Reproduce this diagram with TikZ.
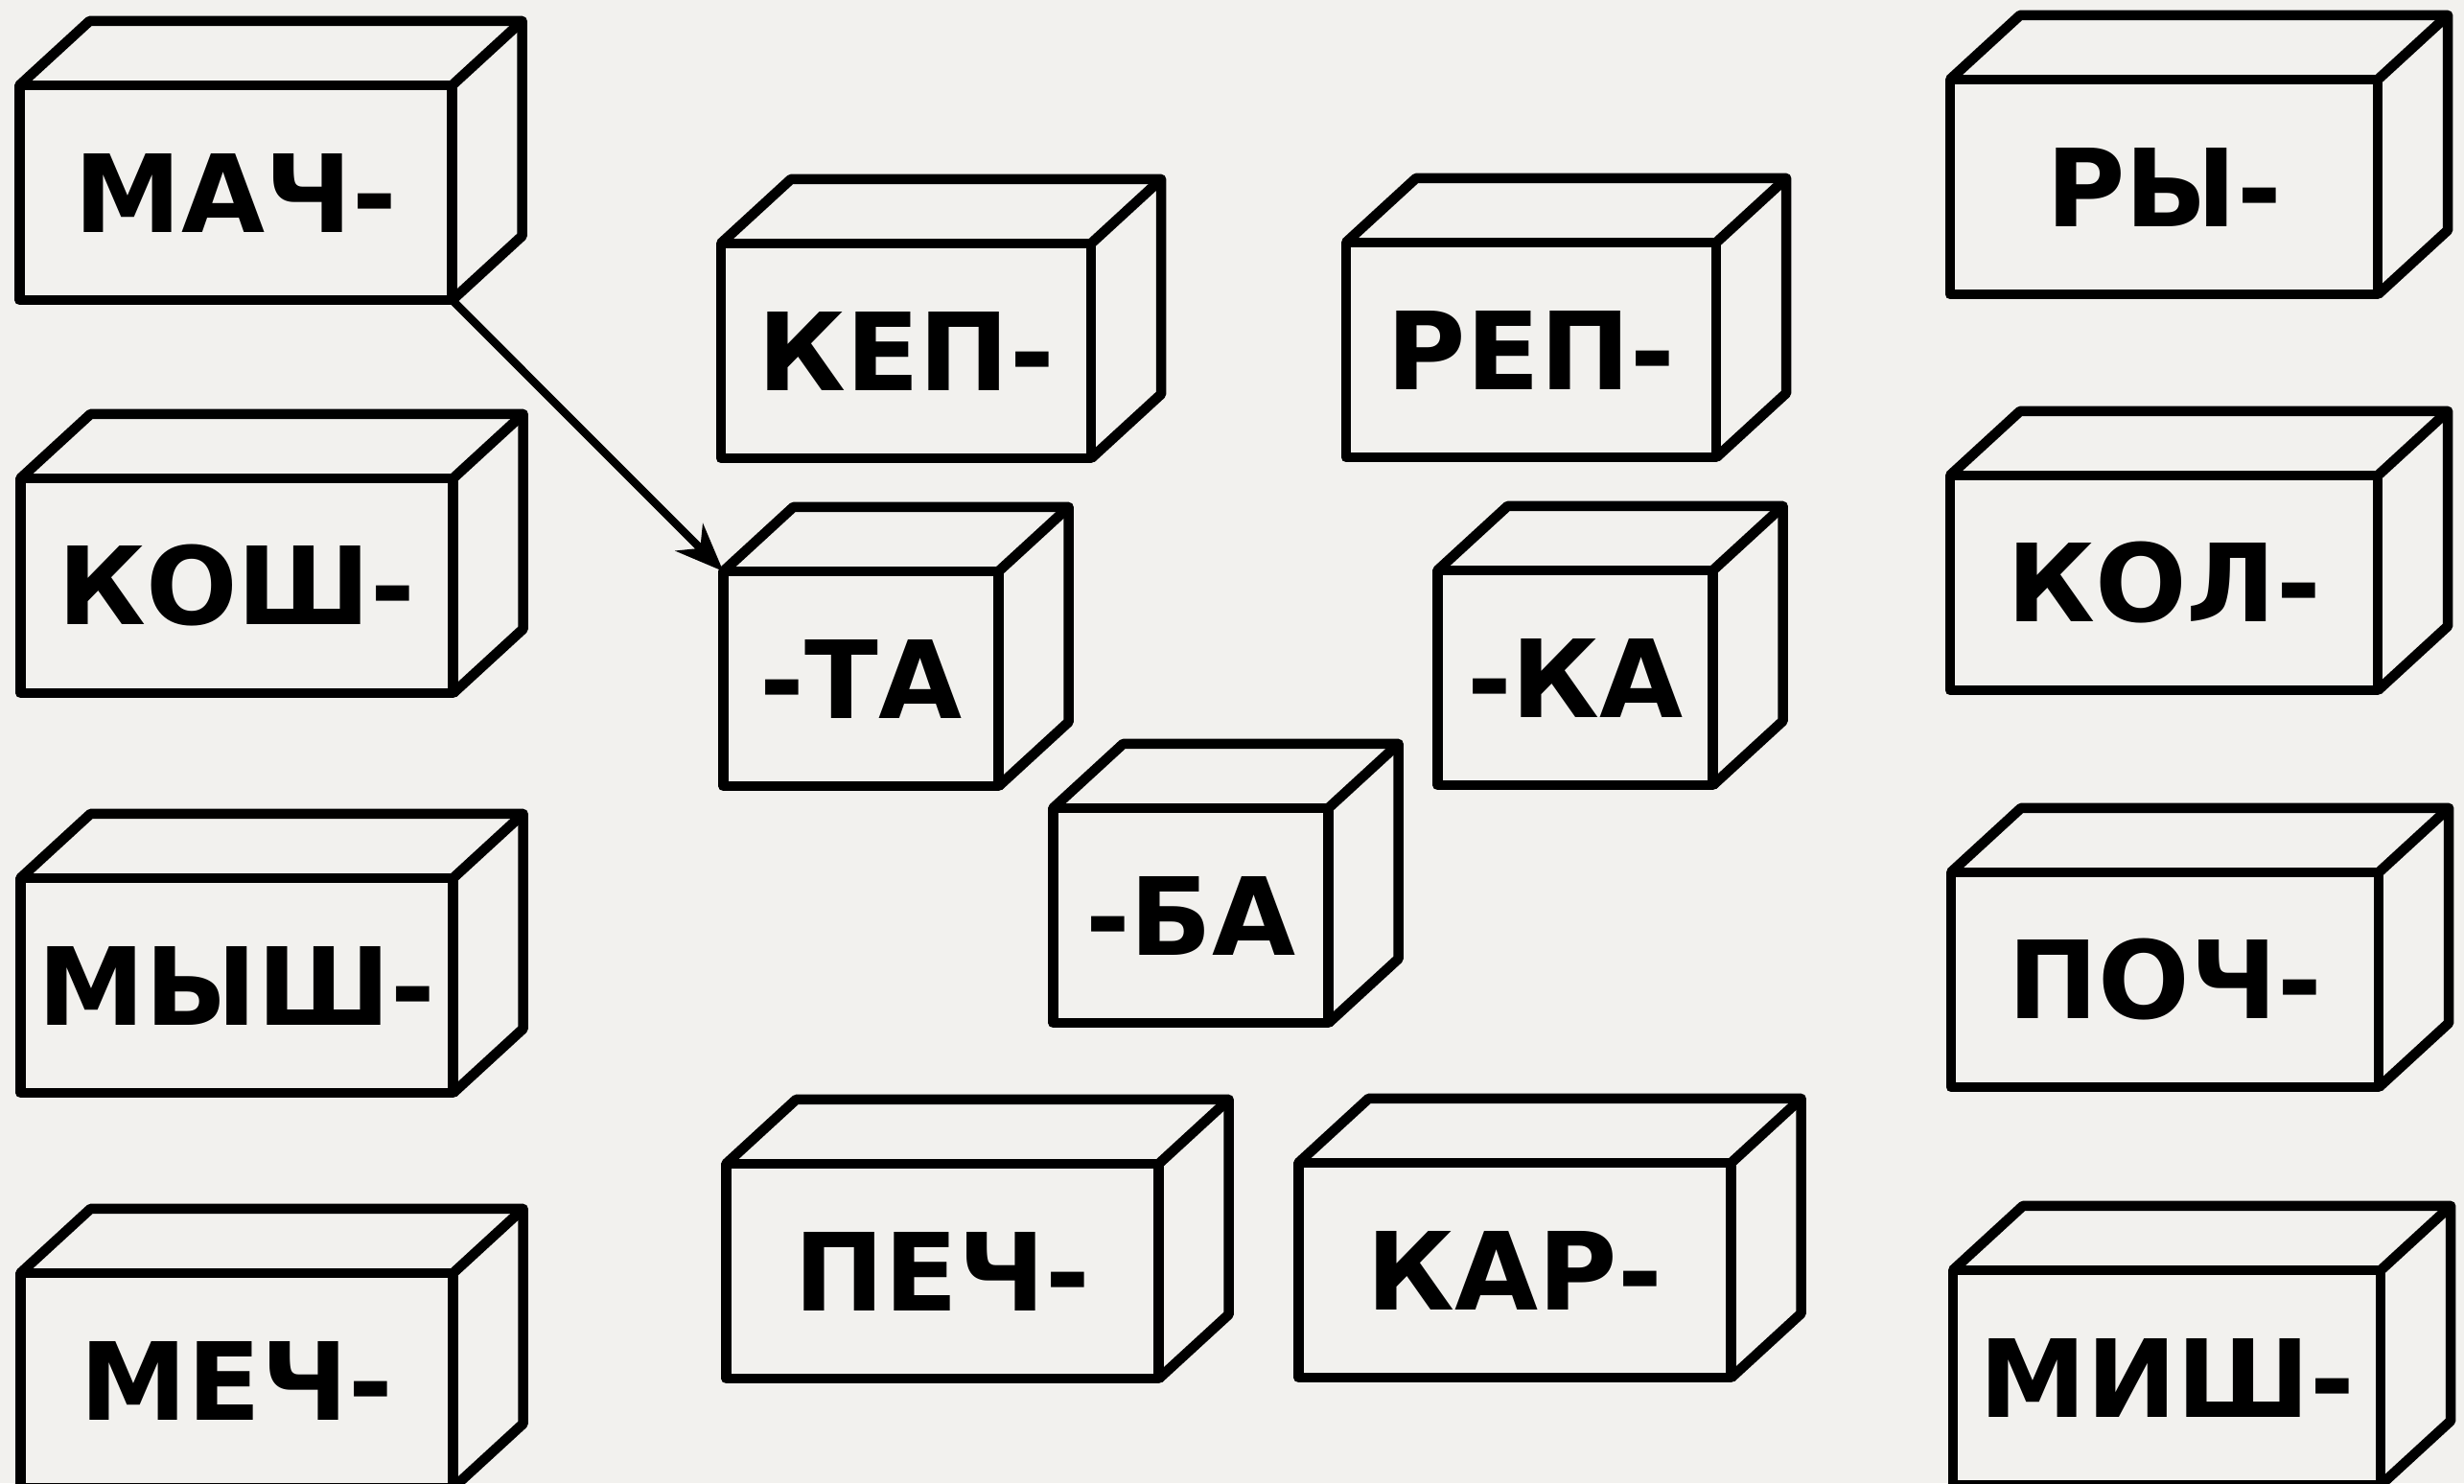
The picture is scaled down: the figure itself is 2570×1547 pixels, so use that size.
\documentclass[tikz,border=0pt]{standalone}
\definecolor{PaperGrey}{RGB}{242, 241, 238}
\usepackage{fontspec}
\setmainfont{DejaVu Sans}
\usepackage{tikz}
\usetikzlibrary{arrows.meta, positioning}

% top and side faces of a brick, drawn from the front face node
\newcommand{\brickfaces}[1]{%
	\draw[brickline] (#1.north west) -- ++(73,-67) -- ([shift={(73,-67)}]#1.north east)
		-- ([shift={(73,-67)}]#1.south east) -- (#1.south east);
	\draw[brickline] (#1.north east) -- ++(73,-67);
}

\begin{document}
\begin{tikzpicture}[x=0.01cm, y=-0.01cm,
		brickline/.style={line width=3pt, line join=round},
		brick/.style={draw, brickline, rectangle, inner sep=0pt, outer sep=0pt,
			minimum height=2.24cm, font=\fontsize{32}{32}\selectfont\bfseries},
		longbrick/.style={brick, minimum width=4.51cm},
		midbrick/.style={brick, minimum width=3.86cm},
		shortbrick/.style={brick, minimum width=2.87cm}]
	\useasboundingbox[fill=PaperGrey] (0,0) rectangle (2570,1547);

	% left column
	\node[longbrick] (mach) at (246,201) {МАЧ-};
	\node[longbrick] (kosh) at (247,611) {КОШ-};
	\node[longbrick] (mysh) at (247,1028) {МЫШ-};
	\node[longbrick] (mech) at (247,1440) {МЕЧ-};

	% middle
	\node[midbrick] (kep) at (945,366) {КЕП-};
	\node[midbrick] (rep) at (1597,365) {РЕП-};
	\node[shortbrick] (ta) at (898,708) {-ТА};
	\node[shortbrick] (ka) at (1643,707) {-КА};
	\node[shortbrick] (ba) at (1242,955) {-БА};
	\node[longbrick] (pech) at (983,1326) {ПЕЧ-};
	\node[longbrick] (kar) at (1580,1325) {КАР-};

	% right column
	\node[longbrick, minimum width=4.46cm] (ry) at (2257,195) {РЫ-};
	\node[longbrick, minimum width=4.46cm] (kol) at (2257,608) {КОЛ-};
	\node[longbrick, minimum width=4.46cm] (poch) at (2258,1022) {ПОЧ-};
	\node[longbrick, minimum width=4.46cm] (mish) at (2260,1437) {МИШ-};

	\foreach \b in {mach, kosh, mysh, mech, kep, rep, ta, ka, ba, pech, kar, ry, kol, poch, mish}
		{\brickfaces{\b}}

	% sample answer
	\draw[line width=2.4pt, -{Stealth[length=5mm, width=4mm, inset=1.6mm]}] (mach.south east) -- (ta.north west);
\end{tikzpicture}
\end{document}
